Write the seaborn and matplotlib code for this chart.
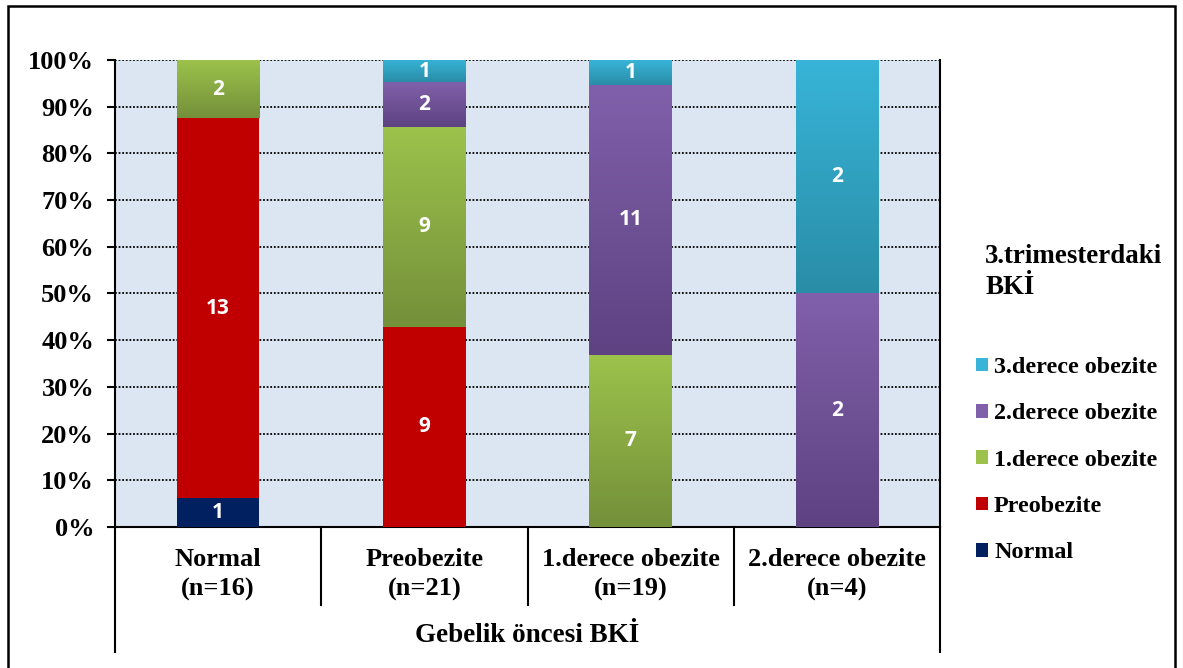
import matplotlib
matplotlib.use("Agg")
import matplotlib.pyplot as plt
import matplotlib.ticker as mticker
import numpy as np
import seaborn as sns
from matplotlib.colors import LinearSegmentedColormap
from matplotlib.patches import Patch, Rectangle

W, H = 1183, 668

# pre-pregnancy BMI groups (x axis)
categories = ["Normal\n(n=16)", "Preobezite\n(n=21)", "1.derece obezite\n(n=19)", "2.derece obezite\n(n=4)"]

# 3rd trimester BMI groups (stack, bottom to top) and counts per x category
series = ["Normal", "Preobezite", "1.derece obezite", "2.derece obezite", "3.derece obezite"]
normal_counts = [1, 0, 0, 0]
preobez_counts = [13, 9, 0, 0]
obez1_counts = [2, 9, 7, 0]
obez2_counts = [0, 2, 11, 2]
obez3_counts = [0, 1, 1, 2]

# (top, bottom) colours; equal pair means flat fill
colors = {
    "Normal": ("#002060", "#002060"),
    "Preobezite": ("#C00000", "#C00000"),
    "1.derece obezite": ("#9CC24B", "#74903A"),
    "2.derece obezite": ("#8060AA", "#5E4282"),
    "3.derece obezite": ("#37B4D8", "#2A8DA7"),
}

SERIF = "Liberation Serif"
LABEL_FONT = "Open Sans"


def main() -> None:
    counts = np.array([normal_counts, preobez_counts, obez1_counts, obez2_counts, obez3_counts], dtype=float)
    shares = counts / counts.sum(axis=0)
    tops = np.cumsum(shares, axis=0)
    bottoms = tops - shares

    fig = plt.figure(figsize=(W / 100, H / 100), dpi=100)
    ax = fig.add_axes([115 / W, 1 - 527 / H, (940 - 115) / W, (527 - 60) / H])
    ax.set_facecolor("#DCE6F2")

    # draw cumulative bars from the top series down so each layer covers the one above
    for k in range(len(series) - 1, -1, -1):
        top_c, bot_c = colors[series[k]]
        mid = np.mean([matplotlib.colors.to_rgb(top_c), matplotlib.colors.to_rgb(bot_c)], axis=0)
        sns.barplot(x=categories, y=tops[k], order=categories, color=mid, saturation=1,
                    width=0.4, linewidth=0, ax=ax, zorder=3)

    # gradient fill on each visible segment + white count labels
    half = 0.2
    for k, name in enumerate(series):
        top_c, bot_c = colors[name]
        cmap = LinearSegmentedColormap.from_list(name, [bot_c, top_c])
        for i in range(len(categories)):
            if counts[k, i] == 0:
                continue
            lo, hi = bottoms[k, i], tops[k, i]
            if top_c != bot_c:
                grad = np.linspace(1, 0, 64).reshape(-1, 1)
                ax.imshow(grad, cmap=cmap, aspect="auto", extent=[i - half, i + half, lo, hi],
                          zorder=4, interpolation="bilinear")
            ax.text(i, (lo + hi) / 2, f"{int(counts[k, i])}", ha="center", va="center",
                    color="white", fontsize=15, fontweight="bold", family=LABEL_FONT, zorder=5)

    ax.set_xlim(-0.5, len(categories) - 0.5)
    ax.set_ylim(0, 1)
    ax.yaxis.set_major_locator(mticker.MultipleLocator(0.1))
    ax.yaxis.set_major_formatter(mticker.PercentFormatter(1.0, decimals=0))
    ax.grid(axis="y", color="black", linestyle=(0, (1, 1)), linewidth=1.3, zorder=1)
    ax.set_axisbelow(True)
    ax.set_ylabel("")
    ax.set_xlabel("")

    for side in ["left", "right", "bottom"]:
        ax.spines[side].set_color("black")
        ax.spines[side].set_linewidth(1.5)
    ax.spines["top"].set_visible(False)

    ax.tick_params(axis="y", direction="out", length=6, width=1.5, color="black", pad=9)
    ax.tick_params(axis="x", length=0, pad=15)
    for lab in ax.get_yticklabels():
        lab.set_fontfamily(SERIF)
        lab.set_fontweight("bold")
        lab.set_fontsize(19)
    for lab in ax.get_xticklabels():
        lab.set_fontfamily(SERIF)
        lab.set_fontweight("bold")
        lab.set_fontsize(19)
        lab.set_linespacing(1.38)

    # category separators below the axis
    trans = ax.get_xaxis_transform()
    axes_h = 527 - 60
    for j in range(len(categories) + 1):
        x = j - 0.5
        depth = (652 - 527) / axes_h if j in (0, len(categories)) else (605 - 527) / axes_h
        ax.plot([x, x], [0, -depth], color="black", lw=1.5, transform=trans, clip_on=False)

    ax.text(0.5, -(635 - 527) / axes_h, "Gebelik öncesi BKİ", transform=ax.transAxes,
            ha="center", va="center", fontsize=19.5, fontweight="bold", family=SERIF)

    # legend
    fig.text(985 / W, 1 - 244 / H, "3.trimesterdaki\nBKİ", ha="left", va="top",
             fontsize=19.4, fontweight="bold", family=SERIF, linespacing=1.3)
    handles = [Patch(facecolor=colors[s][0], edgecolor="none") for s in reversed(series)]
    fig.legend(handles, list(reversed(series)), loc="upper left",
               bbox_to_anchor=(976 / W, 1 - 357 / H), frameon=False,
               prop={"family": SERIF, "weight": "bold", "size": 17.4},
               handlelength=0.5, handleheight=0.5, handletextpad=0.25,
               labelspacing=1.05, borderpad=0, borderaxespad=0)

    # outer frame
    fig.add_artist(Rectangle((8 / W, -0.05), (1175 - 8) / W, 1.05 - 6 / H,
                             transform=fig.transFigure, fill=False, edgecolor="black", lw=1.8))

    fig.savefig("out.png", dpi=100)
    plt.close(fig)


if __name__ == "__main__":
    main()
